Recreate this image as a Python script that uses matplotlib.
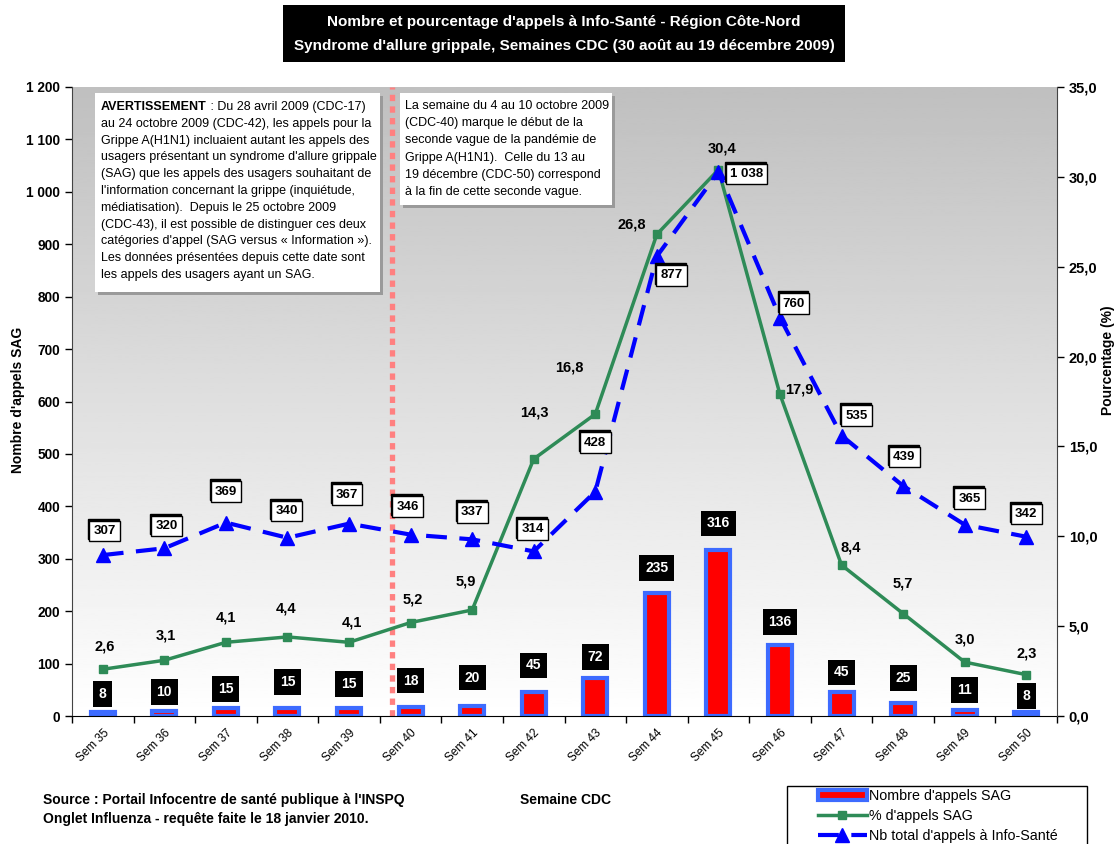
import numpy as np
import matplotlib
matplotlib.use("Agg")
import matplotlib.pyplot as plt
from matplotlib.patches import Rectangle, Patch
from matplotlib.lines import Line2D
from matplotlib.ticker import FuncFormatter, MultipleLocator

# ---------------- data ----------------
weeks = ["Sem 35", "Sem 36", "Sem 37", "Sem 38", "Sem 39", "Sem 40", "Sem 41", "Sem 42",
         "Sem 43", "Sem 44", "Sem 45", "Sem 46", "Sem 47", "Sem 48", "Sem 49", "Sem 50"]
sag_calls = [8, 10, 15, 15, 15, 18, 20, 45, 72, 235, 316, 136, 45, 25, 11, 8]
sag_pct = [2.6, 3.1, 4.1, 4.4, 4.1, 5.2, 5.9, 14.3, 16.8, 26.8, 30.4, 17.9, 8.4, 5.7, 3.0, 2.3]
total_calls = [307, 320, 369, 340, 367, 346, 337, 314, 428, 877, 1038, 760, 535, 439, 365, 342]

# label offsets (pixels) - styling only
bar_lab_dy = [18, 19, 19, 26, 24, 26, 28, 27, 21, 25, 27, 23, 20, 25, 20, 16]
pct_lab_off = [(2, 23), (1, 25), (0, 25), (-1, 28), (3, 20), (2, 23), (-6, 28), (1, 47),
               (-26, 47), (-25, 10), (4, 21), (19, 5), (9, 18), (0, 30), (0, 23), (0, 21)]
tot_lab_off = [(2, 24), (2, 22), (0, 31), (-1, 27), (-2, 29), (-3, 28), (0, 27), (-1, 22),
               (0, 49), (15, -19), (28, -2), (14, 14), (15, 20), (1, 29), (5, 26), (0, 23)]

W, H = 1117, 844
fig = plt.figure(figsize=(W / 100, H / 100), dpi=100)
fig.patch.set_facecolor("white")


def fx(px):
    return px / W


def fy(py):
    return 1 - py / H


FONT = ["Liberation Sans", "DejaVu Sans"]
plt.rcParams["font.family"] = FONT

ax = fig.add_axes([fx(72), fy(716), fx(1057) - fx(72), fy(87) - fy(716)])
x = np.arange(len(weeks))

# gradient background
grad = np.linspace(0.75, 1.0, 256)[:, None]
ax.imshow(grad, extent=(0, 1, 0, 1), transform=ax.transAxes, aspect="auto",
          cmap="gray", vmin=0, vmax=1, zorder=0, origin="upper")

ax.bar(x, sag_calls, width=0.39, color="#ff0000", edgecolor="#3d6bff", linewidth=3, zorder=2)
ax.axvline(4.7, color="#ff8080", lw=3.8, linestyle=(0, (1.2, 1.0)), zorder=1.5)

ax.set_xlim(-0.5, len(weeks) - 0.5)
ax.set_ylim(0, 1200)
ax.yaxis.set_major_locator(MultipleLocator(100))
ax.yaxis.set_major_formatter(FuncFormatter(lambda v, p: f"{int(v):,}".replace(",", " ")))
ax.set_xticks(x)
ax.set_xticklabels(weeks, rotation=45, ha="right", va="top", rotation_mode="anchor", fontsize=8.5)
ax.set_xticks(np.arange(-0.5, len(weeks)), minor=True)
ax.tick_params(axis="x", which="major", length=0, pad=8)
ax.tick_params(axis="x", which="minor", length=5, width=1, color="black")
ax.tick_params(axis="y", length=5, width=1, colors="black", labelsize=9.8)
for lab in ax.get_yticklabels():
    lab.set_fontweight("bold")
ax.spines["top"].set_visible(False)
ax.spines["right"].set_visible(False)
ax.spines["left"].set_color("#444444")
ax.spines["bottom"].set_color("black")

for i, v in enumerate(sag_calls):
    ax.annotate(str(v), (i, v), xytext=(0, bar_lab_dy[i]), textcoords="offset pixels",
                ha="center", va="center", color="white", fontweight="bold", fontsize=10,
                bbox=dict(boxstyle="square,pad=0.42", fc="black", ec="none"), zorder=6)

ax2 = ax.twinx()
ax2.plot(x, sag_pct, color="#2e8b57", lw=2.5, marker="s", ms=6, zorder=3)
ax2.plot(x, total_calls, transform=ax.transData, color="#0000ff", lw=3, dashes=(5, 3),
         marker="^", ms=10, zorder=4)
ax2.set_ylim(0, 35)
ax2.set_xlim(-0.5, len(weeks) - 0.5)
ax2.yaxis.set_major_locator(MultipleLocator(5))
ax2.yaxis.set_major_formatter(FuncFormatter(lambda v, p: f"{v:.1f}".replace(".", ",")))
ax2.tick_params(axis="y", length=5, width=1, labelsize=10.5)
for lab in ax2.get_yticklabels():
    lab.set_fontweight("bold")
for s in ["top", "left", "bottom"]:
    ax2.spines[s].set_visible(False)
ax2.spines["right"].set_color("#444444")

for i, v in enumerate(sag_pct):
    dx, dy = pct_lab_off[i]
    ax2.annotate(f"{v:.1f}".replace(".", ","), (i, v), xytext=(dx, dy), textcoords="offset pixels",
                 ha="center", va="center", fontweight="bold", fontsize=10.5, zorder=6)

for i, v in enumerate(total_calls):
    dx, dy = tot_lab_off[i]
    txt = f"{v:,}".replace(",", " ")
    ax2.annotate(txt, (i, v), xycoords=ax.transData, xytext=(dx - 1, dy + 2), textcoords="offset pixels",
                 ha="center", va="center", fontweight="bold", fontsize=9.5, color="black",
                 bbox=dict(boxstyle="square,pad=0.32", fc="black", ec="black", lw=1), zorder=6)
    ax2.annotate(txt, (i, v), xycoords=ax.transData, xytext=(dx, dy), textcoords="offset pixels",
                 ha="center", va="center", fontweight="bold", fontsize=9.5, color="black",
                 bbox=dict(boxstyle="square,pad=0.32", fc="white", ec="black", lw=1), zorder=7)

# ---------------- title box ----------------
fig.patches.append(Rectangle((fx(283), fy(62)), fx(845) - fx(283), fy(5) - fy(62),
                             transform=fig.transFigure, fc="black", ec="none", zorder=0))
fig.text(fx(564), fy(22), "Nombre et pourcentage d'appels à Info-Santé - Région Côte-Nord",
         color="white", ha="center", va="center", fontsize=11, fontweight="bold")
fig.text(fx(564), fy(46), "Syndrome d'allure grippale, Semaines CDC (30 août au 19 décembre 2009)",
         color="white", ha="center", va="center", fontsize=11, fontweight="bold")


# ---------------- annotation boxes ----------------
def note_box(x0, y0, x1, y1):
    fig.patches.append(Rectangle((fx(x0 + 3), fy(y1 + 3)), fx(x1) - fx(x0), fy(y0) - fy(y1),
                                 transform=fig.transFigure, fc="#9a9a9a", ec="none", zorder=5))
    fig.patches.append(Rectangle((fx(x0), fy(y1)), fx(x1) - fx(x0), fy(y0) - fy(y1),
                                 transform=fig.transFigure, fc="white", ec="none", zorder=6))


note_box(95, 93, 380, 292)
note_box(400, 93, 612, 205)

warn_lines = [
    " : Du 28 avril 2009 (CDC-17)",
    "au 24 octobre 2009 (CDC-42), les appels pour la",
    "Grippe A(H1N1) incluaient autant les appels des",
    "usagers présentant un syndrome d'allure grippale",
    "(SAG) que les appels des usagers souhaitant de",
    "l'information concernant la grippe (inquiétude,",
    "médiatisation).  Depuis le 25 octobre 2009",
    "(CDC-43), il est possible de distinguer ces deux",
    "catégories d'appel (SAG versus « Information »).",
    "Les données présentées depuis cette date sont",
    "les appels des usagers ayant un SAG.",
]
renderer = fig.canvas.get_renderer()
t0 = fig.text(fx(101), fy(107), "AVERTISSEMENT", fontsize=9, fontweight="bold",
              ha="left", va="center", zorder=7)
bb = t0.get_window_extent(renderer=renderer)
for k, line in enumerate(warn_lines):
    xx = bb.x1 / W if k == 0 else fx(101)
    fig.text(xx, fy(107 + k * 16.8), line, fontsize=9, ha="left", va="center", zorder=7)

wave_lines = [
    "La semaine du 4 au 10 octobre 2009",
    "(CDC-40) marque le début de la",
    "seconde vague de la pandémie de",
    "Grippe A(H1N1).  Celle du 13 au",
    "19 décembre (CDC-50) correspond",
    "à la fin de cette seconde vague.",
]
for k, line in enumerate(wave_lines):
    fig.text(fx(405), fy(106 + k * 17.2), line, fontsize=9, ha="left", va="center", zorder=7)

# ---------------- axis titles and notes ----------------
fig.text(fx(18), fy(400), "Nombre d'appels SAG", rotation=90, ha="center", va="center",
         fontsize=10, fontweight="bold")
fig.text(fx(1108), fy(360), "Pourcentage (%)", rotation=90, ha="center", va="center",
         fontsize=10, fontweight="bold")
fig.text(fx(565), fy(800), "Semaine CDC", ha="center", va="center", fontsize=10, fontweight="bold")
fig.text(fx(43), fy(800), "Source : Portail Infocentre de santé publique à l'INSPQ", ha="left",
         va="center", fontsize=10, fontweight="bold")
fig.text(fx(43), fy(819), "Onglet Influenza - requête faite le 18 janvier 2010.", ha="left",
         va="center", fontsize=10, fontweight="bold")

# ---------------- legend ----------------
fig.patches.append(Rectangle((fx(787), fy(850)), fx(1087) - fx(787), fy(786) - fy(850),
                             transform=fig.transFigure, fc="white", ec="black", lw=1, zorder=1))
handles = [
    Patch(fc="#ff0000", ec="#3d6bff", lw=3),
    Line2D([], [], color="#2e8b57", lw=2.5, marker="s", ms=6),
    Line2D([], [], color="#0000ff", lw=3, dashes=(5, 3), marker="^", ms=10),
]
labels = ["Nombre d'appels SAG", "% d'appels SAG", "Nb total d'appels à Info-Santé"]
leg = fig.legend(handles, labels, loc="upper left",
                 bbox_to_anchor=(fx(818), fy(789)), frameon=False,
                 handlelength=3.4, handletextpad=0.15, labelspacing=0.42, borderaxespad=0,
                 borderpad=0, prop={"size": 10.3})

fig.savefig("out.png", dpi=100)
